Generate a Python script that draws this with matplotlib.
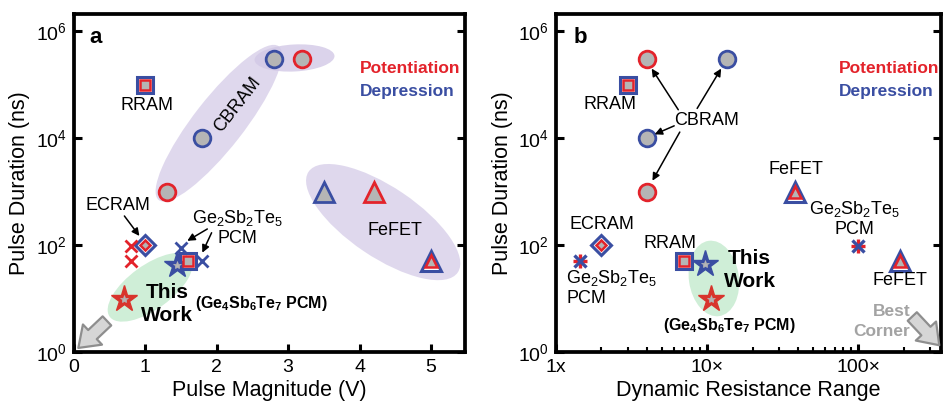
import matplotlib
matplotlib.use("Agg")
import matplotlib.pyplot as plt
from matplotlib.patches import Ellipse
from matplotlib.transforms import ScaledTranslation
from matplotlib.ticker import FixedLocator, LogLocator, NullFormatter, NullLocator

plt.rcParams['font.family'] = ['Liberation Sans', 'DejaVu Sans']
plt.rcParams['mathtext.fontset'] = 'custom'
plt.rcParams['mathtext.rm'] = 'Liberation Sans'
plt.rcParams['mathtext.it'] = 'Liberation Sans'
plt.rcParams['mathtext.bf'] = 'Liberation Sans:bold'

RED = '#e3232b'
BLUE = '#3a4ea2'
GRAY = '#b5b5b5'
LAV = '#d2c8e6'
GREEN = '#cfeed7'

# ---- panel a: pulse magnitude (V) vs pulse duration (ns)
a_rram_v = [1.0, 1.6]
a_rram_t = [1e5, 50]
a_cbram_pot_v = [1.3, 3.2]
a_cbram_pot_t = [1e3, 3e5]
a_cbram_dep_v = [1.8, 2.8]
a_cbram_dep_t = [1e4, 3e5]
a_fefet_pot_v = [4.2]
a_fefet_pot_t = [1e3]
a_fefet_dep_v = [3.5]
a_fefet_dep_t = [1e3]
a_fefet_both_v = [5.0]
a_fefet_both_t = [50]
a_ecram_v = [1.0]
a_ecram_t = [100]
a_pcm_pot_v = [0.8, 0.8]
a_pcm_pot_t = [95, 50]
a_pcm_dep_v = [1.5, 1.8]
a_pcm_dep_t = [90, 50]
a_tw_pot_v = [0.7]
a_tw_pot_t = [10]
a_tw_dep_v = [1.45]
a_tw_dep_t = [42]

# ---- panel b: dynamic resistance range vs pulse duration (ns)
b_rram_r = [3, 7]
b_rram_t = [1e5, 50]
b_cbram_pot_r = [4, 4]
b_cbram_pot_t = [3e5, 1e3]
b_cbram_dep_r = [13.5, 4]
b_cbram_dep_t = [3e5, 1e4]
b_fefet_r = [38, 190]
b_fefet_t = [1e3, 50]
b_ecram_r = [2]
b_ecram_t = [100]
b_pcm_r = [1.45, 100]
b_pcm_t = [50, 95]
b_tw_pot_r = [10.7]
b_tw_pot_t = [10]
b_tw_dep_r = [9.7]
b_tw_dep_t = [45]

y_ticks = [1, 1e2, 1e4, 1e6]
y_labels = ['$10^0$', '$10^2$', '$10^4$', '$10^6$']
a_x_ticks = [0, 1, 2, 3, 4, 5]
b_x_ticks = [1, 10, 100]
b_x_labels = ['1x', '10\u00d7', '100\u00d7']

fig = plt.figure(figsize=(9.44, 4.11), dpi=100)
ax1 = fig.add_axes([0.078, 0.1436, 0.415, 0.822])
ax2 = fig.add_axes([0.589, 0.1436, 0.408, 0.822])


def blob(ax, x, y, w, h, ang, color, alpha=1.0):
    tr = fig.dpi_scale_trans + ScaledTranslation(x, y, ax.transData)
    ax.add_patch(Ellipse((0, 0), w, h, angle=ang, transform=tr, fc=color,
                         ec='none', alpha=alpha, zorder=1))


def pts(ax, x, y, m, ec, fc, ms, mew=2.0, z=3):
    ax.plot(x, y, linestyle='none', marker=m, mec=ec, mfc=fc, ms=ms, mew=mew, zorder=z)


def dual(ax, x, y, m, ms, ms_in):
    pts(ax, x, y, m, BLUE, 'white', ms, mew=2.2)
    pts(ax, x, y, m, RED, GRAY, ms_in, mew=1.8, z=4)


def star(ax, x, y, color):
    pts(ax, x, y, '*', color, color, 20, mew=1)
    pts(ax, x, y, '*', GRAY, GRAY, 6, mew=0.5, z=4)


def style(ax):
    ax.set_yscale('log')
    ax.set_ylim(1, 10 ** 6.32)
    ax.set_yticks(y_ticks)
    ax.set_yticklabels(y_labels)
    ax.yaxis.set_minor_locator(NullLocator())
    for s in ax.spines.values():
        s.set_linewidth(2.7)
    ax.tick_params(which='major', direction='in', length=6, width=2.2, labelsize=14,
                   right=True, pad=5)
    ax.tick_params(which='minor', direction='in', length=3.5, width=1.5)
    ax.set_ylabel('Pulse Duration (ns)', fontsize=15.5, labelpad=4)


def arrow(ax, xy, xytext, **kw):
    ax.annotate('', xy=xy, xytext=xytext,
                arrowprops=dict(arrowstyle='-|>', color='black', lw=1.1,
                                mutation_scale=11, shrinkA=0, shrinkB=0), **kw)


def fat_arrow(ax, xy, xytext, scale=18):
    ax.annotate('', xy=xy, xytext=xytext, xycoords='axes fraction',
                textcoords='axes fraction',
                arrowprops=dict(arrowstyle='simple,head_length=0.7,head_width=1.0,tail_width=0.45',
                                fc='#d6d6d6', ec='#8e8e8e', lw=1.6, mutation_scale=scale,
                                shrinkA=0, shrinkB=0), annotation_clip=False)


# ================= panel a
style(ax1)
ax1.set_xlim(0, 5.48)
ax1.xaxis.set_major_locator(FixedLocator(a_x_ticks))
ax1.set_xlabel('Pulse Magnitude (V)', fontsize=15.5, labelpad=3)

blob(ax1, 2.03, 10 ** 4.28, 1.95, 0.5, 52, LAV, 0.7)
blob(ax1, 3.09, 10 ** 5.5, 0.8, 0.27, 3, LAV, 0.8)
blob(ax1, 4.33, 10 ** 2.43, 1.8, 0.7, -34, LAV, 0.7)
blob(ax1, 1.07, 10 ** 1.21, 1.0, 0.44, 36, GREEN)

dual(ax1, a_rram_v, a_rram_t, 's', 12, 7)
pts(ax1, a_cbram_pot_v, a_cbram_pot_t, 'o', RED, GRAY, 12)
pts(ax1, a_cbram_dep_v, a_cbram_dep_t, 'o', BLUE, GRAY, 12)
pts(ax1, a_fefet_pot_v, a_fefet_pot_t, '^', RED, GRAY, 14)
pts(ax1, a_fefet_dep_v, a_fefet_dep_t, '^', BLUE, GRAY, 14)
dual(ax1, a_fefet_both_v, a_fefet_both_t, '^', 15, 8)
dual(ax1, a_ecram_v, a_ecram_t, 'D', 10, 5.5)
pts(ax1, a_pcm_pot_v, a_pcm_pot_t, 'x', RED, RED, 9)
pts(ax1, a_pcm_dep_v, a_pcm_dep_t, 'x', BLUE, BLUE, 9)
star(ax1, a_tw_dep_v, a_tw_dep_t, BLUE)
star(ax1, a_tw_pot_v, a_tw_pot_t, '#d8342c')

ax1.text(0.055, 0.93, 'a', transform=ax1.transAxes, fontsize=16, fontweight='bold',
         ha='center', va='center')
ax1.text(0.73, 0.84, 'Potentiation', transform=ax1.transAxes, fontsize=12.5,
         fontweight='bold', color=RED, va='center')
ax1.text(0.73, 0.77, 'Depression', transform=ax1.transAxes, fontsize=12.5,
         fontweight='bold', color=BLUE, va='center')
ax1.text(1.03, 10 ** 4.61, 'RRAM', fontsize=13, ha='center', va='center')
ax1.text(2.29, 10 ** 4.63, 'CBRAM', fontsize=13, ha='center', va='center', rotation=52)
ax1.text(0.62, 10 ** 2.74, 'ECRAM', fontsize=13, ha='center', va='center')
ax1.text(2.29, 10 ** 2.5, 'Ge$_2$Sb$_2$Te$_5$', fontsize=13, ha='center', va='center')
ax1.text(2.29, 10 ** 2.12, 'PCM', fontsize=13, ha='center', va='center')
ax1.text(4.49, 10 ** 2.27, 'FeFET', fontsize=13, ha='center', va='center')
ax1.text(1.31, 10 ** 1.12, 'This', fontsize=15, fontweight='bold', ha='center', va='center')
ax1.text(1.31, 10 ** 0.69, 'Work', fontsize=15, fontweight='bold', ha='center', va='center')
ax1.text(2.63, 10 ** 0.91, r'(Ge$_\mathbf{4}$Sb$_\mathbf{6}$Te$_\mathbf{7}$ PCM)',
         fontsize=11.5, fontweight='bold', ha='center', va='center')

arrow(ax1, (0.92, 148), (0.71, 350))
arrow(ax1, (1.59, 120), (1.87, 200))
arrow(ax1, (1.80, 72), (1.93, 170))
fat_arrow(ax1, (0.012, 0.012), (0.085, 0.092), scale=20)

# ================= panel b
style(ax2)
ax2.set_xscale('log')
ax2.set_xlim(1, 355)
ax2.set_xticks(b_x_ticks)
ax2.set_xticklabels(b_x_labels)
ax2.xaxis.set_minor_locator(LogLocator(base=10, subs=range(2, 10)))
ax2.xaxis.set_minor_formatter(NullFormatter())
ax2.set_xlabel('Dynamic Resistance Range', fontsize=15.5, labelpad=3)

blob(ax2, 11.1, 10 ** 1.375, 0.5, 0.76, 8, GREEN)

dual(ax2, b_rram_r, b_rram_t, 's', 12, 7)
pts(ax2, b_cbram_pot_r, b_cbram_pot_t, 'o', RED, GRAY, 12)
pts(ax2, b_cbram_dep_r, b_cbram_dep_t, 'o', BLUE, GRAY, 12)
dual(ax2, b_fefet_r, b_fefet_t, '^', 15, 8)
dual(ax2, b_ecram_r, b_ecram_t, 'D', 10, 5.5)
pts(ax2, b_pcm_r, b_pcm_t, '+', RED, RED, 10, mew=2.4)
pts(ax2, b_pcm_r, b_pcm_t, 'x', BLUE, BLUE, 8, mew=2.4, z=4)
star(ax2, b_tw_dep_r, b_tw_dep_t, BLUE)
star(ax2, b_tw_pot_r, b_tw_pot_t, '#d8342c')

ax2.text(0.062, 0.93, 'b', transform=ax2.transAxes, fontsize=16, fontweight='bold',
         ha='center', va='center')
ax2.text(0.735, 0.84, 'Potentiation', transform=ax2.transAxes, fontsize=12.5,
         fontweight='bold', color=RED, va='center')
ax2.text(0.735, 0.77, 'Depression', transform=ax2.transAxes, fontsize=12.5,
         fontweight='bold', color=BLUE, va='center')
ax2.text(2.27, 10 ** 4.63, 'RRAM', fontsize=13, ha='center', va='center')
ax2.text(10, 10 ** 4.33, 'CBRAM', fontsize=13, ha='center', va='center')
ax2.text(2.0, 10 ** 2.38, 'ECRAM', fontsize=13, ha='center', va='center')
ax2.text(5.7, 10 ** 2.03, 'RRAM', fontsize=13, ha='center', va='center')
ax2.text(1.17, 10 ** 1.38, 'Ge$_2$Sb$_2$Te$_5$', fontsize=13, ha='left', va='center')
ax2.text(1.17, 10 ** 1.0, 'PCM', fontsize=13, ha='left', va='center')
ax2.text(13.8, 10 ** 1.74, 'This', fontsize=15, fontweight='bold', ha='left', va='center')
ax2.text(12.9, 10 ** 1.31, 'Work', fontsize=15, fontweight='bold', ha='left', va='center')
ax2.text(14, 10 ** 0.5, r'(Ge$_\mathbf{4}$Sb$_\mathbf{6}$Te$_\mathbf{7}$ PCM)',
         fontsize=11.5, fontweight='bold', ha='center', va='center')
ax2.text(38.5, 10 ** 3.42, 'FeFET', fontsize=13, ha='center', va='center')
ax2.text(95, 10 ** 2.68, 'Ge$_2$Sb$_2$Te$_5$', fontsize=13, ha='center', va='center')
ax2.text(95, 10 ** 2.3, 'PCM', fontsize=13, ha='center', va='center')
ax2.text(190, 10 ** 1.34, 'FeFET', fontsize=13, ha='center', va='center')
ax2.text(167, 10 ** 0.76, 'Best', fontsize=12.5, fontweight='bold', color='#a3a3a3',
         ha='center', va='center')
ax2.text(144, 10 ** 0.39, 'Corner', fontsize=12.5, fontweight='bold', color='#a3a3a3',
         ha='center', va='center')

arrow(ax2, (4.3, 2.0e5), (6.45, 3.4e4))
arrow(ax2, (12.4, 2.0e5), (8.6, 3.6e4))
arrow(ax2, (4.5, 1.18e4), (6.06, 1.7e4))
arrow(ax2, (4.35, 1.6e3), (6.6, 1.3e4))
fat_arrow(ax2, (0.995, 0.02), (0.925, 0.105), scale=20)

fig.savefig('out.png', dpi=100)
